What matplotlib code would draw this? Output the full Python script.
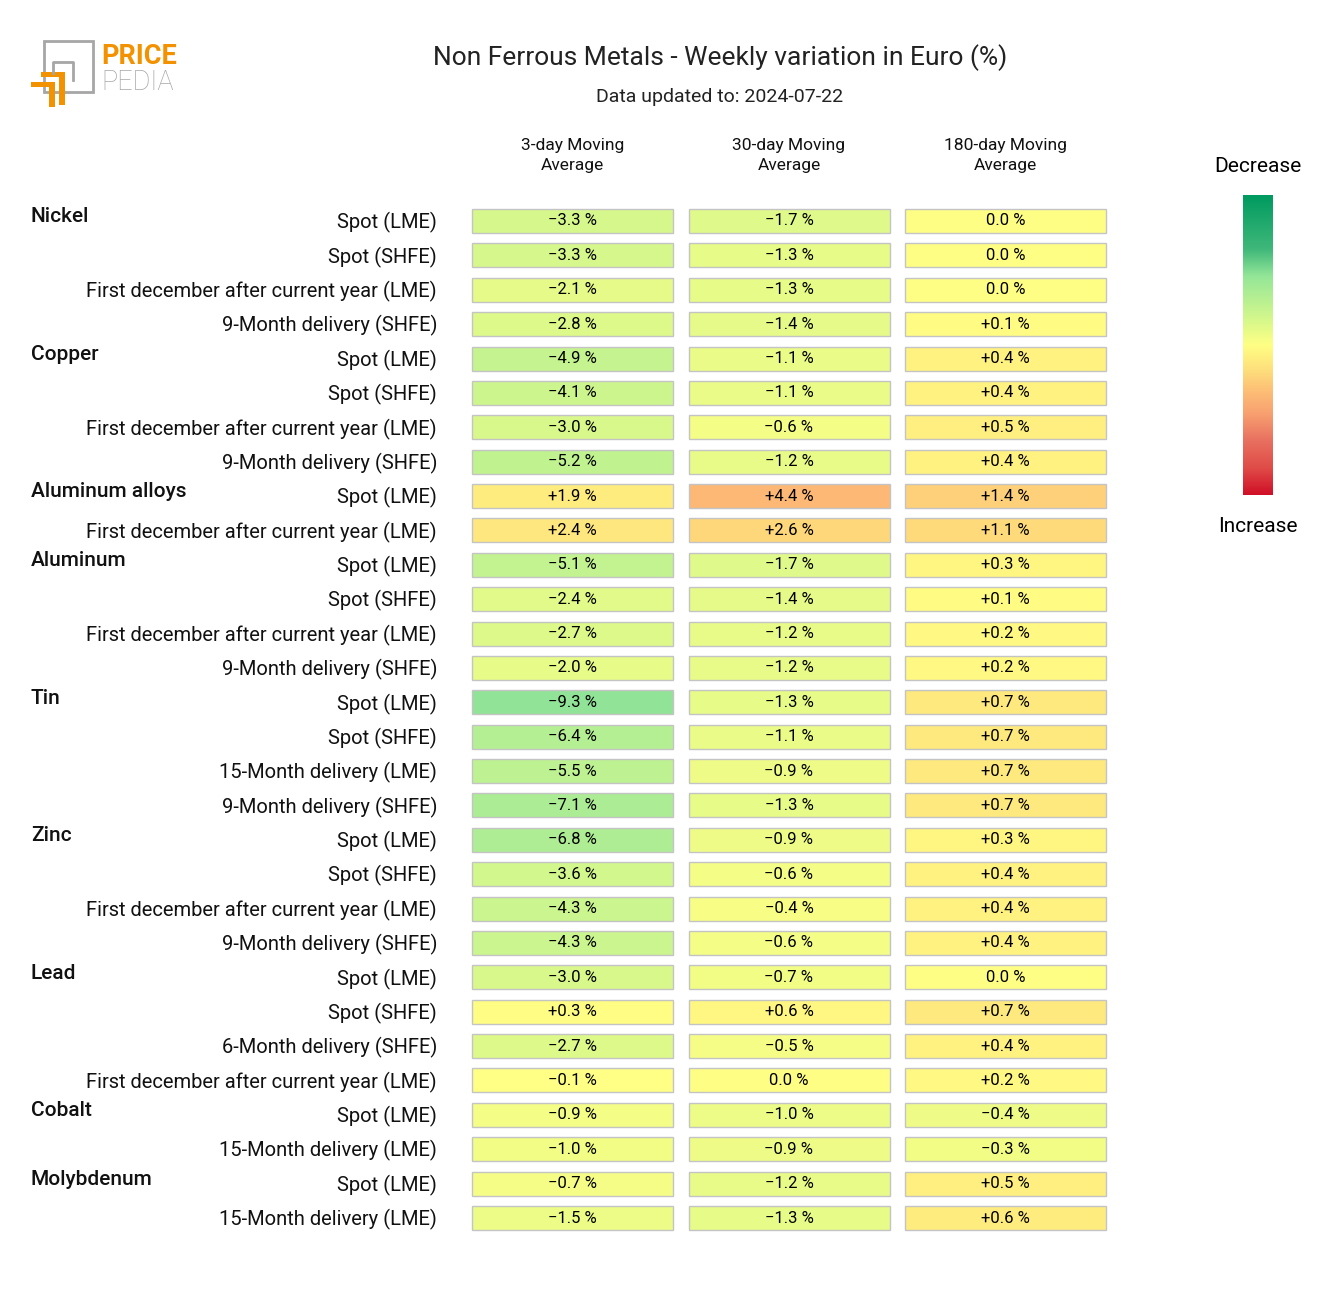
import numpy as np
import matplotlib
matplotlib.use("Agg")
import matplotlib.pyplot as plt
from matplotlib.colors import LinearSegmentedColormap
from matplotlib.patches import Rectangle, Polygon
import matplotlib.transforms as mtransforms

plt.rcParams["font.family"] = ["Roboto", "DejaVu Sans"]

# ---- data ----
title = "Non Ferrous Metals - Weekly variation in Euro (%)"
subtitle = "Data updated to: 2024-07-22"
columns = ["3-day Moving\nAverage", "30-day Moving\nAverage", "180-day Moving\nAverage"]

groups = ["Nickel", "Copper", "Aluminum alloys", "Aluminum", "Tin", "Zinc",
          "Lead", "Cobalt", "Molybdenum"]
group_sizes = [4, 4, 2, 4, 4, 4, 4, 2, 2]

FD = "First december after current year (LME)"
row_labels = [
    "Spot (LME)", "Spot (SHFE)", FD, "9-Month delivery (SHFE)",
    "Spot (LME)", "Spot (SHFE)", FD, "9-Month delivery (SHFE)",
    "Spot (LME)", FD,
    "Spot (LME)", "Spot (SHFE)", FD, "9-Month delivery (SHFE)",
    "Spot (LME)", "Spot (SHFE)", "15-Month delivery (LME)", "9-Month delivery (SHFE)",
    "Spot (LME)", "Spot (SHFE)", FD, "9-Month delivery (SHFE)",
    "Spot (LME)", "Spot (SHFE)", "6-Month delivery (SHFE)", FD,
    "Spot (LME)", "15-Month delivery (LME)",
    "Spot (LME)", "15-Month delivery (LME)",
]

ma3 = [-3.3, -3.3, -2.1, -2.8, -4.9, -4.1, -3.0, -5.2, 1.9, 2.4,
       -5.1, -2.4, -2.7, -2.0, -9.3, -6.4, -5.5, -7.1, -6.8, -3.6,
       -4.3, -4.3, -3.0, 0.3, -2.7, -0.1, -0.9, -1.0, -0.7, -1.5]
ma30 = [-1.7, -1.3, -1.3, -1.4, -1.1, -1.1, -0.6, -1.2, 4.4, 2.6,
        -1.7, -1.4, -1.2, -1.2, -1.3, -1.1, -0.9, -1.3, -0.9, -0.6,
        -0.4, -0.6, -0.7, 0.6, -0.5, 0.0, -1.0, -0.9, -1.2, -1.3]
ma180 = [0.0, 0.0, 0.0, 0.1, 0.4, 0.4, 0.5, 0.4, 1.4, 1.1,
         0.3, 0.1, 0.2, 0.2, 0.7, 0.7, 0.7, 0.7, 0.3, 0.4,
         0.4, 0.4, 0.0, 0.7, 0.4, 0.2, -0.4, -0.3, 0.5, 0.6]

# colour scale half-range for each column
col_ranges = [20, 13, 6]

# ---- colormap: green = decrease (top), red = increase (bottom) ----
cmap = LinearSegmentedColormap.from_list("pp", [
    (0.00, "#009a60"), (0.18, "#40b87a"), (0.27, "#94e698"), (0.35, "#b8f092"),
    (0.43, "#dcf98a"), (0.50, "#ffff84"), (0.58, "#fee07c"), (0.65, "#fdc076"),
    (0.73, "#f8a070"), (0.82, "#e87060"), (0.91, "#e04c48"), (1.00, "#d01028"),
])

W, H = 1320, 1305
fig = plt.figure(figsize=(W / 100, H / 100), dpi=100)


def px_box(x0, y0, x1, y1):
    return [x0 / W, 1 - y1 / H, (x1 - x0) / W, (y1 - y0) / H]


n = len(row_labels)
pitch_x, pitch_y = 216.5, 34.38
ax = fig.add_axes(px_box(572.5 - pitch_x / 2, 221 - pitch_y / 2,
                         1005.5 + pitch_x / 2, 1218 + pitch_y / 2))
ax.set_xlim(-0.5, 2.5)
ax.set_ylim(n - 0.5, -0.5)
ax.axis("off")

cw, ch = 201 / pitch_x, 24 / pitch_y
for c, vals in enumerate([ma3, ma30, ma180]):
    for r, v in enumerate(vals):
        p = 0.5 + v / (2 * col_ranges[c])
        ax.add_patch(Rectangle((c - cw / 2, r - ch / 2), cw, ch,
                               facecolor=cmap(np.clip(p, 0, 1)),
                               edgecolor="#c4c4c4", lw=1.0))
        if v > 0:
            s = "+%.1f %%" % v
        elif v < 0:
            s = "\u2212%.1f %%" % abs(v)
        else:
            s = "0.0 %"
        ax.text(c, r, s, ha="center", va="center", fontsize=12, color="#000000")

# column headers
for c, name in enumerate(columns):
    ax.text(c, (155.5 - 221) / pitch_y, name, ha="center", va="center",
            fontsize=12.5, linespacing=1.35, color="#111111")

# row labels and groups
tr = mtransforms.blended_transform_factory(fig.transFigure, ax.transData)
for r, lab in enumerate(row_labels):
    ax.text(437 / W, r + 0.05, lab, transform=tr, ha="right", va="center",
            fontsize=14.5, color="#111111")

start = 0
for g, size in zip(groups, group_sizes):
    ax.text(31 / W, start - 0.12, g, transform=tr, ha="left", va="center",
            fontsize=15, fontweight="medium", color="#111111")
    start += size

# titles
fig.text(720 / W, 1 - 58 / H, title, ha="center", va="center", fontsize=19,
         color="#222222")
fig.text(720 / W, 1 - 97 / H, subtitle, ha="center", va="center", fontsize=14,
         color="#222222")

# colorbar
cax = fig.add_axes(px_box(1243, 195, 1273, 495))
grad = np.linspace(0, 1, 256).reshape(-1, 1)
cax.imshow(grad, aspect="auto", cmap=cmap, extent=(0, 1, 1, 0))
cax.set_xticks([])
cax.set_yticks([])
for sp in cax.spines.values():
    sp.set_visible(False)
fig.text(1258 / W, 1 - 166 / H, "Decrease", ha="center", va="center", fontsize=15)
fig.text(1258 / W, 1 - 526 / H, "Increase", ha="center", va="center", fontsize=15)

# logo
lax = fig.add_axes([0, 0, 1, 1], zorder=-1)
lax.set_xlim(0, W)
lax.set_ylim(H, 0)
lax.axis("off")
gray, orange = "#a6a6a6", "#f39200"
lax.add_patch(Rectangle((44, 41), 49, 51, fill=False, edgecolor=gray, lw=2))
lax.plot([53, 53, 73, 73], [73, 62, 62, 80], color=gray, lw=2)
lax.add_patch(Polygon([(41, 72), (65, 72), (65, 105), (59, 105), (59, 77), (41, 77)],
                      color=orange, lw=0))
lax.add_patch(Polygon([(31, 82), (55, 82), (55, 107), (49, 107), (49, 87), (31, 87)],
                      color=orange, lw=0))
lax.text(101, 64, "PRICE", fontsize=19.5, fontweight="bold", color=orange, va="baseline")
lax.text(101, 90, "PEDIA", fontsize=19.5, fontweight="light", color=gray, va="baseline")

fig.savefig("out.png", dpi=100)
